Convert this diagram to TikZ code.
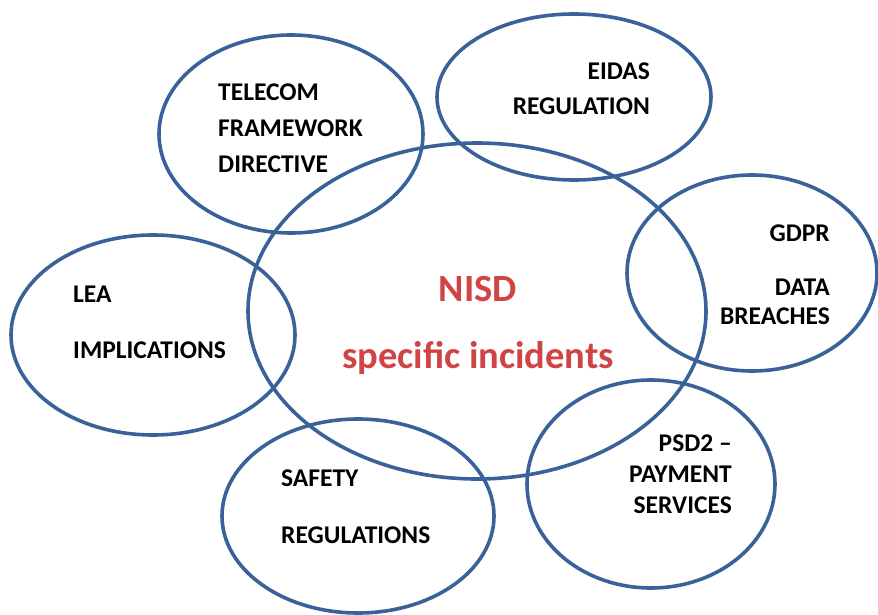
\documentclass[tikz,border=0pt]{standalone}
\usepackage{fontspec}
\setmainfont{Carlito}
\usetikzlibrary{shapes.geometric}
\definecolor{ringblue}{RGB}{58,98,154}
\definecolor{nisdred}{RGB}{208,68,70}
\tikzset{
  ring/.style={ellipse,draw=ringblue,line width=3.6pt,inner sep=0pt},
  ringtext/.style={font=\bfseries\fontsize{25.5}{29}\selectfont,inner sep=0pt},
  coretext/.style={font=\bfseries\fontsize{38.5}{45}\selectfont,text=nisdred,inner sep=0pt,align=center}
}
\begin{document}
\begin{tikzpicture}[x=1pt,y=-1pt]
  \useasboundingbox (0,0) rectangle (878,615);
  % rings
  \node[ring,minimum width=458pt,minimum height=336pt] (nisd) at (477,311) {};
  \node[ring,minimum width=264pt,minimum height=198pt] (telecom) at (291,134) {};
  \node[ring,minimum width=274pt,minimum height=166pt] (eidas) at (574,97) {};
  \node[ring,minimum width=250pt,minimum height=196pt] (gdpr) at (752,273) {};
  \node[ring,minimum width=284pt,minimum height=200pt] (lea) at (153,335) {};
  \node[ring,minimum width=248pt,minimum height=208pt] (psd) at (651,484) {};
  \node[ring,minimum width=272pt,minimum height=194pt] (safety) at (358,516) {};
  % texts (base = last line)
  \node[coretext,anchor=base] (nisdtext) at (478,368) {NISD\\[22pt]specific incidents};
  \node[ringtext,anchor=base west,align=left] (telecomtext) at (218,172)
    {TELECOM\\[7pt]FRAMEWORK\\[7pt]DIRECTIVE};
  \node[ringtext,anchor=base east,align=right] (eidastext) at (650,115)
    {EIDAS\\[6pt]REGULATION};
  \node[ringtext,anchor=base east,align=right] (gdprtext) at (830,324)
    {GDPR\\[25pt]DATA\\BREACHES};
  \node[ringtext,anchor=base west,align=left] (leatext) at (73,358)
    {LEA\\[27pt]IMPLICATIONS};
  \node[ringtext,anchor=base east,align=right] (psdtext) at (732,513)
    {PSD2 –\\[2pt]PAYMENT\\[2pt]SERVICES};
  \node[ringtext,anchor=base west,align=left] (safetytext) at (281,543)
    {SAFETY\\[28pt]REGULATIONS};
\end{tikzpicture}
\end{document}
